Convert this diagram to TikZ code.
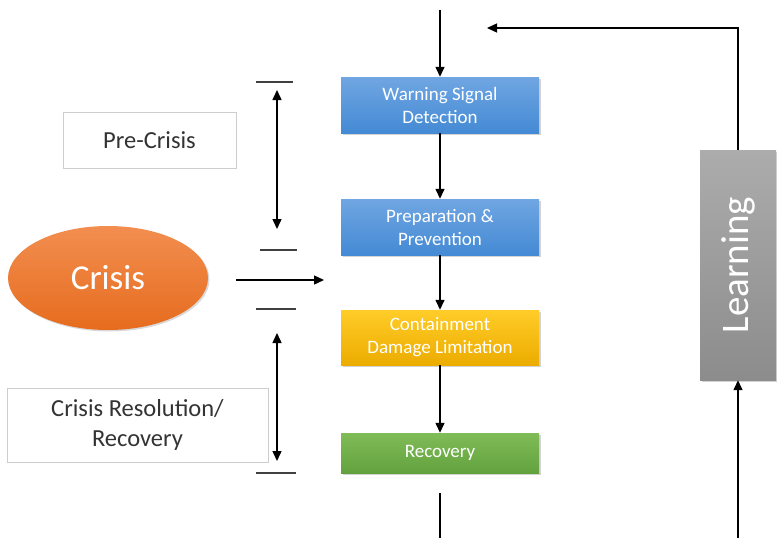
\documentclass[tikz,border=0pt]{standalone}
\usepackage{fontspec}
\setmainfont{Carlito}
\usepackage{tikz}
\usetikzlibrary{arrows.meta,positioning,shapes.geometric,shadows}
\definecolor{blueTop}{RGB}{112,166,226}
\definecolor{blueBot}{RGB}{68,138,212}
\definecolor{yellowTop}{RGB}{255,204,40}
\definecolor{yellowBot}{RGB}{236,172,0}
\definecolor{greenTop}{RGB}{128,188,88}
\definecolor{greenBot}{RGB}{98,162,62}
\definecolor{grayTop}{RGB}{172,172,172}
\definecolor{grayBot}{RGB}{140,140,140}
\definecolor{orangeTop}{RGB}{242,142,80}
\definecolor{orangeBot}{RGB}{230,108,30}
\definecolor{frame}{RGB}{205,205,205}

\begin{document}
\begin{tikzpicture}[x=1pt,y=-1pt,
  stage/.style={rectangle,minimum width=198pt,align=center,text=white,
    font=\fontsize{19}{23}\selectfont,
    drop shadow={shadow xshift=1.5pt,shadow yshift=-1.5pt,opacity=.35}},
  phase/.style={rectangle,draw=frame,line width=.6pt,align=center,
    font=\fontsize{24.5}{30}\selectfont,text=black!80},
  flow/.style={line width=1.4pt,-{Triangle[length=10pt,width=9pt]}},
  span/.style={line width=1.4pt,{Triangle[length=10pt,width=9pt]}-{Triangle[length=10pt,width=9pt]}},
  tick/.style={line width=1.2pt,black!75}]
\useasboundingbox (0,0) rectangle (777,538);
% process column
\node[stage,minimum height=56pt,top color=blueTop,bottom color=blueBot] (warn) at (440,105) {Warning Signal\\Detection};
\node[stage,minimum height=56pt,top color=blueTop,bottom color=blueBot] (prep) at (440,227) {Preparation \&\\Prevention};
\node[stage,minimum height=55pt,top color=yellowTop,bottom color=yellowBot] (cont) at (440,337.5) {Containment\\Damage Limitation};
\node[stage,minimum height=40pt,top color=greenTop,bottom color=greenBot] (rec) at (440,453) {Recovery};
\coordinate (inTop) at (440,10);
\coordinate (outA) at (440,493);
\coordinate (outB) at (440,538);
\draw[flow] (inTop) -- (warn);
\draw[flow] (warn) -- (prep);
\draw[flow] (prep) -- (cont);
\draw[flow] (cont) -- (rec);
\draw[line width=1.4pt] (outA) -- (outB);
% learning loop
\node[rectangle,minimum width=76pt,minimum height=230pt,top color=grayTop,bottom color=grayBot,text=white,
  font=\fontsize{39}{42}\selectfont,
  drop shadow={shadow xshift=1.5pt,shadow yshift=-1.5pt,opacity=.35}] (learn) at (738,265) {\rotatebox{90}{Learning}};
\coordinate (loopIn) at (738,538);
\coordinate (loopOut) at (487,28);
\draw[flow] (loopIn) -- (learn);
\draw[flow] (learn.north) |- (loopOut);
% phases
\node[phase,minimum width=173pt,minimum height=56pt] (pre) at (149.5,140) {Pre-Crisis};
\node[phase,minimum width=261pt,minimum height=74pt] (post) at (137.5,425) {Crisis Resolution/\\Recovery};
\node[ellipse,minimum width=200pt,minimum height=104pt,top color=orangeTop,bottom color=orangeBot,text=white,
  font=\fontsize{35}{38}\selectfont,
  drop shadow={shadow xshift=1.5pt,shadow yshift=-1.5pt,opacity=.3}] (crisis) at (108,278) {Crisis};
\coordinate (hitA) at (236,280);
\coordinate (hitB) at (324,280);
\draw[flow] (hitA) -- (hitB);
% brackets
\draw[tick] (256,82) -- (293,82);
\draw[tick] (260,250) -- (297,250);
\draw[tick] (256,309) -- (296,309);
\draw[tick] (256,473) -- (296,473);
\coordinate (preTop) at (277,90);
\coordinate (preBot) at (277,229);
\coordinate (postTop) at (277,333);
\coordinate (postBot) at (277,461);
\draw[span] (preTop) -- (preBot);
\draw[span] (postTop) -- (postBot);
\end{tikzpicture}
\end{document}
